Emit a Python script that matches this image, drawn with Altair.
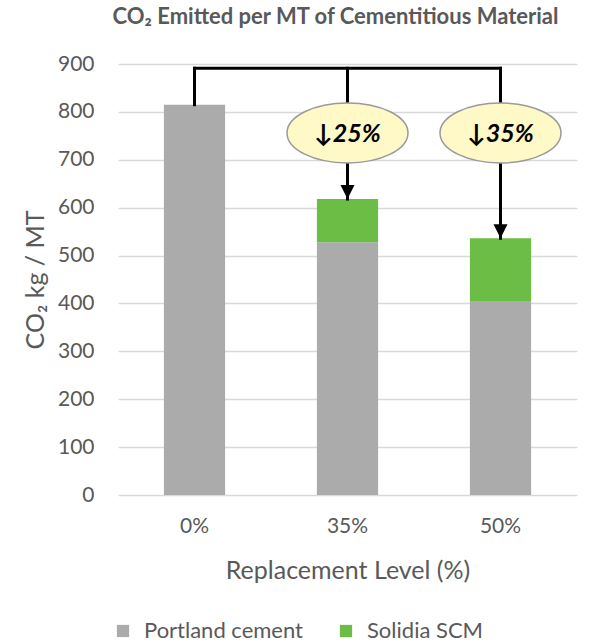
import altair as alt
import pandas as pd

categories = ["0%", "35%", "50%"]
portland = [815, 528, 405]
solidia = [0, 90, 131]
reductions = ["", "↓25%", "↓35%"]
series = ["Portland cement", "Solidia SCM"]
colors = ["#ababab", "#6cbd45"]

FONT = "Lato"
GREY = "#595959"

rows = []
for c, p, s in zip(categories, portland, solidia):
    rows.append({"cat": c, "series": series[0], "value": p, "ord": 0})
    rows.append({"cat": c, "series": series[1], "value": s, "ord": 1})
bars_df = pd.DataFrame(rows)

totals = [p + s for p, s in zip(portland, solidia)]
BRACKET = 891
ELL_TOP = 818
ELL_MID = 756
ELL_BOT = 693

seg_rows = [{"cat": categories[0], "y1": BRACKET, "y2": totals[0]}]
for c, t, r in zip(categories[1:], totals[1:], reductions[1:]):
    seg_rows.append({"cat": c, "y1": BRACKET, "y2": ELL_TOP})
    seg_rows.append({"cat": c, "y1": ELL_BOT, "y2": t})
seg_df = pd.DataFrame(seg_rows)

hline_df = pd.DataFrame([{"c1": categories[0], "c2": categories[-1], "y": BRACKET}])
ell_df = pd.DataFrame([{"cat": c, "y": ELL_MID, "label": r} for c, r in zip(categories[1:], reductions[1:])])
head_df = pd.DataFrame([{"cat": c, "y": t} for c, t in zip(categories[1:], totals[1:])])

xscale = alt.Scale(domain=categories, paddingInner=0.6, paddingOuter=0.3)
yscale = alt.Scale(domain=[0, 900])

bars = alt.Chart(bars_df).mark_bar().encode(
    x=alt.X("cat:N", scale=xscale, sort=categories,
            axis=alt.Axis(title="Replacement Level (%)", labelAngle=0, labelFontSize=21,
                          labelColor=GREY, labelFont=FONT, titleFont=FONT, titleFontSize=25,
                          titleColor=GREY, titleFontWeight="normal", ticks=False, domain=False,
                          grid=False, labelPadding=20, titlePadding=22)),
    y=alt.Y("value:Q", scale=yscale, stack="zero",
            axis=alt.Axis(title="CO₂ kg / MT", values=list(range(0, 901, 100)), labelFontSize=21,
                          labelColor=GREY, labelFont=FONT, titleFont=FONT, titleFontSize=25,
                          titleColor=GREY, titleFontWeight="normal", ticks=False, domain=False,
                          gridColor="#d9d9d9", gridWidth=1.5, labelPadding=24, titlePadding=9)),
    color=alt.Color("series:N", scale=alt.Scale(domain=series, range=colors),
                    legend=alt.Legend(title=None, orient="none", legendX=-6, legendY=556,
                                      direction="horizontal", symbolType="square", symbolSize=150,
                                      symbolStrokeWidth=0, labelFontSize=22, labelFont=FONT,
                                      labelColor=GREY, columnPadding=32, labelOffset=10)),
    order=alt.Order("ord:Q"),
)

segs = alt.Chart(seg_df).mark_rule(color="black", strokeWidth=3, strokeCap="square").encode(
    x=alt.X("cat:N", scale=xscale, sort=categories),
    y=alt.Y("y1:Q", scale=yscale),
    y2="y2:Q",
)

hline = alt.Chart(hline_df).mark_rule(color="black", strokeWidth=3, strokeCap="square").encode(
    x=alt.X("c1:N", scale=xscale, sort=categories),
    x2="c2:N",
    y=alt.Y("y:Q", scale=yscale),
)

ellipses = alt.Chart(ell_df).mark_point(
    shape="M-1,0A1,0.496,0,1,1,1,0A1,0.496,0,1,1,-1,0Z",
    size=14641, filled=True, fill="#fff9c8", fillOpacity=1, stroke="#9a9a9a", strokeWidth=1.5,
    opacity=1,
).encode(
    x=alt.X("cat:N", scale=xscale, sort=categories),
    y=alt.Y("y:Q", scale=yscale),
)

labels = alt.Chart(ell_df).mark_text(
    fontSize=25, fontWeight="bold", fontStyle="italic", font=FONT, color="black",
    align="center", baseline="middle", dy=1,
).encode(
    x=alt.X("cat:N", scale=xscale, sort=categories),
    y=alt.Y("y:Q", scale=yscale),
    text="label:N",
)

heads = alt.Chart(head_df).mark_point(
    shape="M-1,-1L1,-1L0,1Z", size=196, filled=True, color="black", opacity=1, yOffset=-7,
).encode(
    x=alt.X("cat:N", scale=xscale, sort=categories),
    y=alt.Y("y:Q", scale=yscale),
)

chart = alt.layer(bars, segs, hline, ellipses, labels, heads).properties(
    width=459, height=431,
    title=alt.TitleParams("CO₂ Emitted per MT of Cementitious Material", fontSize=22,
                          fontWeight="bold", font=FONT, color=GREY, anchor="middle", offset=24,
                          dx=-12),
    autosize=alt.AutoSizeParams(type="none"),
    padding={"left": 118, "top": 64, "right": 13, "bottom": 149},
    background="white",
).configure_view(stroke=None)

chart.save("out.html", embed_options={"renderer": "svg", "actions": False})
